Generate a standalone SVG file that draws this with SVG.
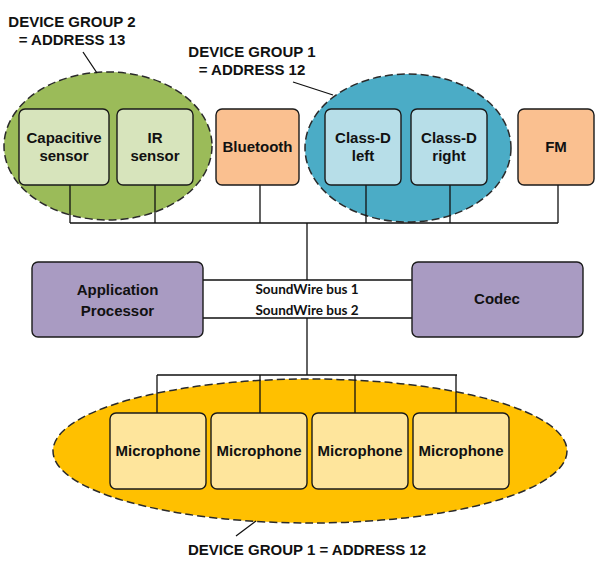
<svg xmlns="http://www.w3.org/2000/svg" width="595" height="576" viewBox="0 0 595 576">
<style>
.grp{stroke:#2a2a2a;stroke-width:1.5;stroke-dasharray:8 4}
.box{stroke:#1a1a1a;stroke-width:1.4}
.t{font-family:"Liberation Sans",Arial,sans-serif;font-weight:bold;font-size:15px;fill:#111;text-anchor:middle}
.lbl{font-family:"Liberation Sans",Arial,sans-serif;font-weight:bold;font-size:15px;fill:#111;text-anchor:middle}
.bus{font-family:Lato,"Open Sans",sans-serif;font-weight:bold;font-size:13.5px;fill:#111;text-anchor:middle}
.ln{stroke:#111;stroke-width:1.3;fill:none}
.green{fill:#d7e4bc}.blue{fill:#b7dee8}.orange{fill:#fac090}.purple{fill:#a99bc2}.yellow{fill:#fee59c}
</style>
<rect width="595" height="576" fill="#fff"/>
<g id="group2-ellipse"><ellipse class="grp" cx="108" cy="146" rx="104" ry="74" fill="#9bbb59"/></g>
<g id="group1-ellipse"><ellipse class="grp" cx="408" cy="148" rx="103" ry="74" fill="#4bacc6"/></g>
<g id="group1-mics-ellipse"><ellipse class="grp" cx="310" cy="451" rx="257" ry="72" fill="#ffc000"/></g>
<g id="connectors">
<path class="ln" d="M70 185V223M155 185V223M260 185V223M366 185V223M450 185V223M558 185V223M70 223H558"/>
<path class="ln" d="M307 223V280M203 280H412M203 318H412M307 318V375M157 375H457M157 375V413M260 375V413M355 375V413M456 375V413"/>
<path class="ln" d="M83 52L97 73M293 82L333 95M236 536L256 521"/>
</g>
<g id="capacitive"><rect class="box green" x="19" y="109" width="90" height="76" rx="6"/><text class="t" x="64" y="143">Capacitive</text><text class="t" x="64" y="161">sensor</text></g>
<g id="ir"><rect class="box green" x="117" y="109" width="76" height="76" rx="6"/><text class="t" x="155" y="143">IR</text><text class="t" x="155" y="161">sensor</text></g>
<g id="bluetooth"><rect class="box orange" x="216" y="109" width="83" height="76" rx="6"/><text class="t" x="257.5" y="152">Bluetooth</text></g>
<g id="classd-left"><rect class="box blue" x="325" y="109" width="76" height="76" rx="6"/><text class="t" x="363" y="143">Class-D</text><text class="t" x="363" y="161">left</text></g>
<g id="classd-right"><rect class="box blue" x="411" y="109" width="76" height="76" rx="6"/><text class="t" x="449" y="143">Class-D</text><text class="t" x="449" y="161">right</text></g>
<g id="fm"><rect class="box orange" x="518" y="109" width="76" height="76" rx="6"/><text class="t" x="556" y="152">FM</text></g>
<g id="ap"><rect class="box purple" x="32" y="262" width="171" height="75" rx="6"/><text class="t" x="117.5" y="295">Application</text><text class="t" x="117.5" y="316">Processor</text></g>
<g id="codec"><rect class="box purple" x="412" y="262" width="171" height="75" rx="6"/><text class="t" x="497" y="304">Codec</text></g>
<g id="bus-labels"><text class="bus" x="307" y="294">SoundWire bus 1</text><text class="bus" x="307" y="315">SoundWire bus 2</text></g>
<g id="mic1"><rect class="box yellow" x="110" y="413" width="96" height="76" rx="6"/><text class="t" x="158" y="456">Microphone</text></g>
<g id="mic2"><rect class="box yellow" x="211" y="413" width="96" height="76" rx="6"/><text class="t" x="259" y="456">Microphone</text></g>
<g id="mic3"><rect class="box yellow" x="312" y="413" width="96" height="76" rx="6"/><text class="t" x="360" y="456">Microphone</text></g>
<g id="mic4"><rect class="box yellow" x="413" y="413" width="96" height="76" rx="6"/><text class="t" x="461" y="456">Microphone</text></g>
<g id="labels">
<text class="lbl" x="72" y="27">DEVICE GROUP 2</text><text class="lbl" x="72" y="45">= ADDRESS 13</text>
<text class="lbl" x="252" y="57">DEVICE GROUP 1</text><text class="lbl" x="252" y="75">= ADDRESS 12</text>
<text class="lbl" x="307" y="555">DEVICE GROUP 1 = ADDRESS 12</text>
</g>
</svg>
